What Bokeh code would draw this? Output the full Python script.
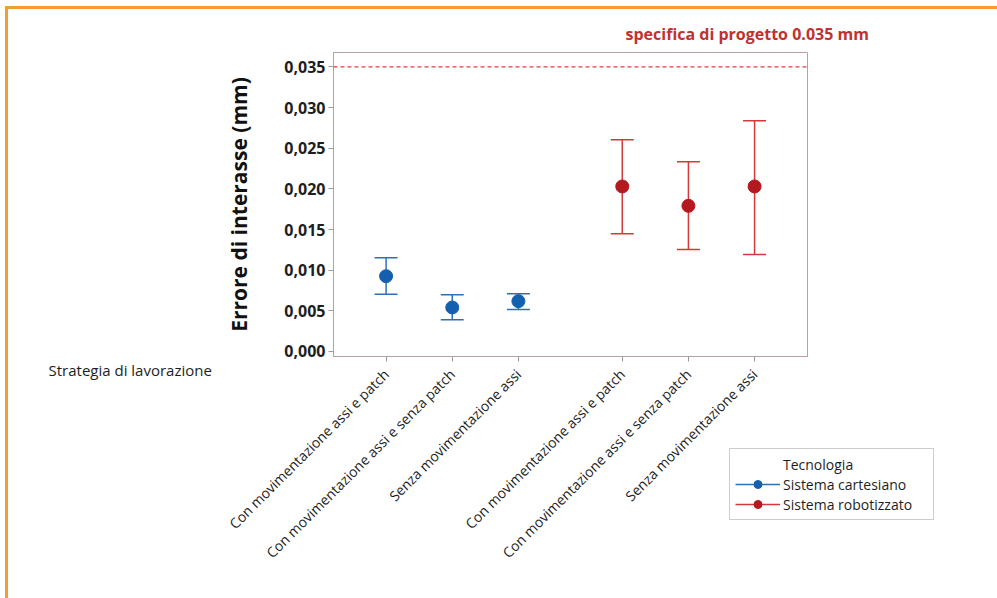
from math import pi

from bokeh.plotting import figure
from bokeh.models import (ColumnDataSource, Range1d, FixedTicker, Title,
                          Whisker, TeeHead, Span, Label, Legend, LegendItem)
from bokeh.embed import file_html
from bokeh.resources import INLINE

# ---------------- data ----------------
strategie = ["Con movimentazione assi e patch",
             "Con movimentazione assi e senza patch",
             "Senza movimentazione assi"]
tecnologie = ["Sistema cartesiano", "Sistema robotizzato"]

media_cartesiano = [0.00926, 0.00541, 0.00619]
inf_cartesiano = [0.00705, 0.00390, 0.00517]
sup_cartesiano = [0.01153, 0.00697, 0.00710]

media_robotizzato = [0.02030, 0.01792, 0.02030]
inf_robotizzato = [0.01448, 0.01255, 0.01193]
sup_robotizzato = [0.02604, 0.02334, 0.02838]

specifica = 0.035
specifica_testo = "specifica di progetto 0.035 mm"
y_ticks = [0.000, 0.005, 0.010, 0.015, 0.020, 0.025, 0.030, 0.035]

# ---------------- style ----------------
BLUE_M, BLUE_L = "#1560ae", "#2f6fb6"
RED_M, RED_L = "#b3191f", "#d23a3a"
ORANGE = "#f39c33"
FONT = "Open Sans"
GROUP_GAP = 0.57

series = [
    (tecnologie[0], media_cartesiano, inf_cartesiano, sup_cartesiano, BLUE_M, BLUE_L),
    (tecnologie[1], media_robotizzato, inf_robotizzato, sup_robotizzato, RED_M, RED_L),
]

W, H = 989, 586
p = figure(width=W, height=H, output_backend="svg", toolbar_location=None,
           x_range=Range1d(-0.795, 6.37), y_range=Range1d(-0.00062, 0.03678),
           min_border_left=325, min_border_right=W - 799,
           min_border_top=43, min_border_bottom=H - 347)
p.styles = {"margin-left": "8px", "margin-top": "9px"}
p.background_fill_color = "white"
p.border_fill_color = "white"
p.xgrid.visible = False
p.ygrid.visible = False
p.outline_line_color = "#b9a0a0"
p.outline_line_width = 1

all_x, all_labels = [], []
for g, (name, media, inf, sup, cm, cl) in enumerate(series):
    xs = [g * (len(strategie) + GROUP_GAP) + i for i in range(len(strategie))]
    all_x += xs
    all_labels += strategie
    src = ColumnDataSource(dict(x=xs, m=media, lo=inf, hi=sup))
    p.add_layout(Whisker(base="x", upper="hi", lower="lo", source=src, dimension="height",
                         line_color=cl, line_width=1.5,
                         upper_head=TeeHead(size=23, line_color=cl, line_width=1.5),
                         lower_head=TeeHead(size=23, line_color=cl, line_width=1.5)))
    p.scatter("x", "m", source=src, size=13, fill_color=cm, line_color=cm)

# spec line
p.add_layout(Span(location=specifica, dimension="width", line_color="#d9413f",
                  line_dash="4 3", line_width=1.2))

# axes
xa = p.xaxis[0]
xa.ticker = FixedTicker(ticks=all_x)
xa.major_label_overrides = {x: lab for x, lab in zip(all_x, all_labels)}
xa.major_label_orientation = pi / 4
xa.major_label_text_font = FONT
xa.major_label_text_font_size = "14px"
xa.major_label_text_color = "#1e1e1e"
xa.major_tick_out = 5
xa.major_tick_in = 0
xa.minor_tick_line_color = None
xa.major_tick_line_color = "#9a9a9a"
xa.axis_line_color = "#b9a0a0"
xa.major_label_standoff = 10

ya = p.yaxis[0]
ya.ticker = FixedTicker(ticks=y_ticks)
ya.major_label_overrides = {t: f"{t:.3f}".replace(".", ",") for t in y_ticks}
ya.major_label_text_font = FONT
ya.major_label_text_font_size = "16px"
ya.major_label_text_font_style = "bold"
ya.major_label_text_color = "#1e1e1e"
ya.major_tick_out = 5
ya.major_tick_in = 0
ya.minor_tick_line_color = None
ya.major_tick_line_color = "#9a9a9a"
ya.axis_line_color = "#b9a0a0"
ya.major_label_standoff = 3
ya.axis_label = "Errore di interasse (mm)"
ya.axis_label_text_font = FONT
ya.axis_label_text_font_size = "21px"
ya.axis_label_text_font_style = "bold"
ya.axis_label_text_color = "#111111"
ya.axis_label_standoff = 28

# texts outside the frame go into side panels (not clipped there)
p.add_layout(Title(text=specifica_testo, align="left", offset=292, standoff=15,
                   text_font=FONT, text_font_size="16px", text_font_style="bold",
                   text_color="#c0322f"), "above")
p.add_layout(Label(x=-285, y=222, x_units="screen", y_units="screen",
                   text="Strategia di lavorazione", text_font=FONT,
                   text_font_size="15px", text_color="#1e1e1e", text_baseline="middle"),
             "below")

# ---------------- legend (separate small canvas placed over the page) ----------------
lg = figure(width=206, height=73, output_backend="svg", toolbar_location=None,
            x_range=Range1d(0, 1), y_range=Range1d(0, 1), title=None,
            x_axis_location=None, y_axis_location=None, min_border=0)
lg.styles = {"position": "absolute", "left": "729px", "top": "448px"}
lg.outline_line_color = None
lg.background_fill_color = None
lg.border_fill_color = None
lg.grid.visible = False

items = [LegendItem(label="Tecnologia",
                    renderers=[lg.scatter(x=[], y=[], size=1, fill_alpha=0, line_alpha=0)])]
for name, media, inf, sup, cm, cl in series:
    # legend proxies placed outside the visible range of the legend canvas
    ln = lg.line(x=[2, 3], y=[2, 2], line_color=cl, line_width=1.5)
    sc = lg.scatter(x=[2], y=[2], size=10, fill_color=cm, line_color=cm)
    items.append(LegendItem(label=name, renderers=[ln, sc]))

legend = Legend(items=items, location="top_left", glyph_width=45, glyph_height=20,
                label_height=20, label_width=145, spacing=0, padding=5, margin=0,
                label_standoff=3, border_line_color="#9a9a9a", border_line_width=1,
                label_text_font=FONT, label_text_font_size="14px",
                label_text_color="#1e1e1e", background_fill_color="white")
lg.add_layout(legend)


# ---------------- orange page frame: top and left rules ----------------
def rule(w, h, left, top):
    f = figure(width=w, height=h, output_backend="svg", toolbar_location=None, title=None,
               x_axis_location=None, y_axis_location=None, min_border=0)
    f.styles = {"position": "absolute", "left": f"{left}px", "top": f"{top}px",
                "background-color": ORANGE}
    f.outline_line_color = None
    f.background_fill_color = ORANGE
    f.border_fill_color = ORANGE
    f.grid.visible = False
    return f


top_rule = rule(992, 3, 5, 6)
left_rule = rule(3, 592, 5, 6)

open("out.html", "w").write(file_html([p, lg, top_rule, left_rule], INLINE))
